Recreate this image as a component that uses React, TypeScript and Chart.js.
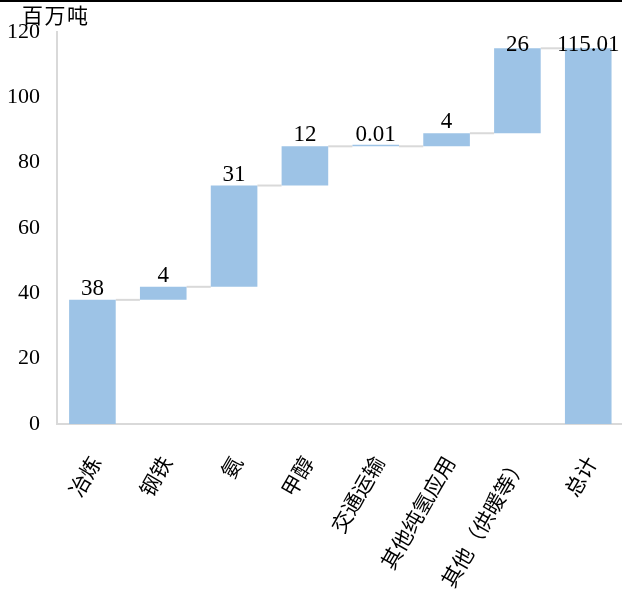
import React, { useEffect, useRef } from "react";
import { Chart, registerables } from "chart.js";

Chart.register(...registerables);

// Hydrogen demand by end use (million tonnes), shown as a waterfall
const categories = ["冶炼", "钢铁", "氨", "甲醇", "交通运输", "其他纯氢应用", "其他（供暖等）", "总计"];
const increments = [38, 4, 31, 12, 0.01, 4, 26];
const totalValue = 115.01;
const yTicks = { min: 0, max: 120, step: 20 };
const unitLabel = "百万吨";

const BAR_COLOR = "#9DC3E6";
const RULE_COLOR = "#d9d9d9";
const SERIF = "'Liberation Serif', 'Times New Roman', 'Noto Sans CJK SC', serif";

// floating bar ranges: each step starts where the previous one ended; total starts at 0
const starts: number[] = [];
const ends: number[] = [];
increments.reduce((acc, v) => {
  starts.push(acc);
  ends.push(acc + v);
  return acc + v;
}, 0);
const ranges: [number, number][] = [
  ...increments.map((_, i) => [starts[i], ends[i]] as [number, number]),
  [0, totalValue],
];
const labelValues = [...increments, totalValue];

const waterfallExtras = {
  id: "waterfallExtras",
  beforeDatasetsDraw(chart: any) {
    const { ctx } = chart;
    const meta = chart.getDatasetMeta(0);
    const yScale = chart.scales.y;
    ctx.save();
    ctx.strokeStyle = RULE_COLOR;
    ctx.lineWidth = 2;
    for (let i = 0; i < meta.data.length - 1; i++) {
      const a = meta.data[i].getProps(["x", "width"], true);
      const b = meta.data[i + 1].getProps(["x", "width"], true);
      const yy = yScale.getPixelForValue(ends[i]);
      ctx.beginPath();
      ctx.moveTo(a.x + a.width / 2, yy);
      ctx.lineTo(b.x - b.width / 2, yy);
      ctx.stroke();
    }
    ctx.restore();
  },
  afterDatasetsDraw(chart: any) {
    const { ctx, chartArea } = chart;
    const meta = chart.getDatasetMeta(0);
    const yScale = chart.scales.y;
    ctx.save();
    ctx.font = `23px ${SERIF}`;
    ctx.fillStyle = "#000";
    ctx.textAlign = "center";
    ctx.textBaseline = "alphabetic";
    meta.data.forEach((bar: any, i: number) => {
      const { x } = bar.getProps(["x"], true);
      const top = yScale.getPixelForValue(ranges[i][1]);
      const baseline = Math.max(top - 5, chartArea.top + 18.5);
      ctx.fillText(String(labelValues[i]), x, baseline);
    });
    ctx.restore();
  },
  afterDraw(chart: any) {
    const { ctx } = chart;
    ctx.save();
    ctx.fillStyle = "#000";
    ctx.fillRect(0, 0, chart.width, 2);
    ctx.font = `21px 'Noto Sans CJK SC', sans-serif`;
    (ctx as any).letterSpacing = "1.5px";
    ctx.textAlign = "left";
    ctx.textBaseline = "middle";
    ctx.fillText(unitLabel, 22, 15);
    ctx.restore();
  },
};

export default function App() {
  const canvasRef = useRef<HTMLCanvasElement | null>(null);

  useEffect(() => {
    if (!canvasRef.current) return;
    const chart = new Chart(canvasRef.current, {
      type: "bar",
      data: {
        labels: categories,
        datasets: [
          {
            data: ranges as any,
            backgroundColor: BAR_COLOR,
            borderWidth: 0,
            barPercentage: 0.658,
            categoryPercentage: 1,
            minBarLength: 1.5,
          },
        ],
      },
      options: {
        responsive: false,
        animation: false,
        devicePixelRatio: 1,
        layout: { padding: { top: 32, right: 15, left: 0, bottom: 0 } },
        plugins: {
          legend: { display: false },
          tooltip: { enabled: false },
          title: { display: false },
        },
        scales: {
          x: {
            grid: { display: false, drawTicks: false },
            border: { display: true, color: RULE_COLOR, width: 2 },
            ticks: {
              minRotation: 60,
              maxRotation: 60,
              padding: 29,
              labelOffset: 5,
              color: "#000",
              autoSkip: false,
              font: { family: SERIF, size: 21 },
            },
            afterFit(scale: any) {
              scale.height = 177;
            },
          },
          y: {
            min: yTicks.min,
            max: yTicks.max,
            grid: { display: false, drawTicks: false },
            border: { display: true, color: RULE_COLOR, width: 2 },
            ticks: {
              stepSize: yTicks.step,
              padding: 17,
              color: "#000",
              font: { family: SERIF, size: 22 },
            },
            afterFit(scale: any) {
              scale.width = 57;
            },
          },
        },
      },
      plugins: [waterfallExtras],
    });
    return () => chart.destroy();
  }, []);

  return (
    <div
      style={{
        position: "fixed",
        left: 0,
        top: 0,
        width: 622,
        height: 601,
        overflow: "hidden",
        background: "#fff",
      }}
    >
      <canvas ref={canvasRef} width={640} height={601} style={{ display: "block" }} />
    </div>
  );
}
